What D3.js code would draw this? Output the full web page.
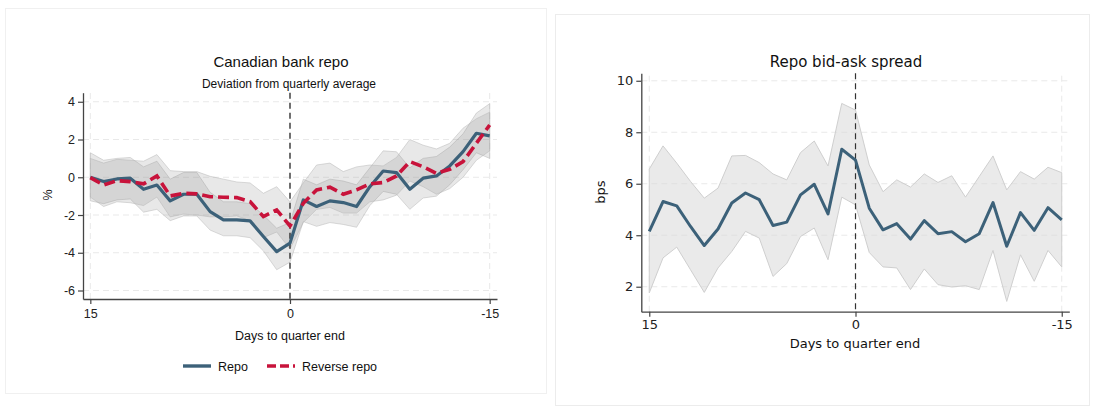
<!DOCTYPE html>
<html>
<head>
<meta charset="utf-8">
<script src="https://cdn.jsdelivr.net/npm/d3@7"></script>
<style>
  body { margin: 0; background: #fff; }
  svg { display: block; }
</style>
</head>
<body>
<svg id="drawing_region"></svg>
<script>
// days to quarter end, 15 .. -15
const days = d3.range(15, -16, -1);

// left panel: Canadian bank repo, % deviation from quarterly average
const repoDev = [0, -0.23, -0.09, -0.05, -0.64, -0.41, -1.25, -0.9, -0.9, -1.82, -2.26, -2.26, -2.31, -3.14, -3.94, -3.49,
  -1.2, -1.55, -1.25, -1.34, -1.55, -0.5, 0.33, 0.25, -0.64, -0.05, 0.07, 0.6, 1.36, 2.33, 2.19];
const repoHi = [1.3, 0.9, 1.0, 1.05, 0.55, 0.85, -0.1, 0.25, 0.25, -0.8, -1.3, -1.3, -1.4, -2.0, -2.7, -2.4,
  -0.1, -0.4, -0.1, -0.2, -0.4, 0.5, 1.4, 1.35, 0.5, 1.0, 1.1, 1.6, 2.3, 3.4, 3.9];
const repoLo = [-1.25, -1.4, -1.2, -1.15, -1.85, -1.7, -2.3, -2.05, -2.05, -2.8, -3.1, -3.1, -3.2, -3.9, -4.9, -4.5,
  -2.35, -2.6, -2.4, -2.5, -2.65, -1.5, -0.75, -0.9, -1.7, -1.1, -1.0, -0.4, 0.4, 1.3, 1.0];
const revDev = [-0.02, -0.41, -0.18, -0.23, -0.35, 0.07, -0.99, -0.85, -0.88, -1.03, -1.06, -1.08, -1.29, -2.08, -1.73, -2.58,
  -1.38, -0.67, -0.53, -0.9, -0.67, -0.35, -0.28, 0.07, 0.83, 0.56, 0.21, 0.42, 0.83, 1.8, 2.77];
const revHi = [1.0, 0.75, 0.95, 0.9, 0.85, 1.2, 0.35, 0.3, 0.3, 0.05, -0.1, -0.25, -0.3, -0.85, -0.5, -1.3,
  -0.3, 0.65, 0.75, 0.3, 0.55, 0.65, 0.6, 1.05, 2.0, 1.7, 1.5, 1.8, 2.6, 3.1, 3.45];
const revLo = [-1.05, -1.55, -1.3, -1.35, -1.5, -1.05, -2.1, -1.95, -2.0, -2.1, -2.1, -2.05, -2.3, -3.2, -2.9, -3.8,
  -2.4, -1.7, -1.6, -1.9, -1.9, -1.3, -1.2, -0.95, -0.2, -0.5, -0.9, -0.6, 0.0, 0.9, 1.4];

// right panel: repo bid-ask spread, bps
const spread = [4.15, 5.31, 5.14, 4.34, 3.6, 4.24, 5.25, 5.64, 5.38, 4.38, 4.51, 5.57, 5.98, 4.83, 7.34, 6.92,
  5.05, 4.21, 4.45, 3.85, 4.57, 4.06, 4.14, 3.75, 4.06, 5.27, 3.57, 4.88, 4.19, 5.07, 4.6];
const spreadHi = [6.57, 7.47, 6.8, 6.09, 5.44, 5.83, 7.08, 7.1, 6.82, 6.38, 6.15, 7.21, 7.66, 6.69, 9.12, 8.86,
  6.73, 5.69, 6.15, 5.87, 6.38, 6.05, 6.31, 5.48, 6.28, 7.08, 5.76, 6.47, 6.18, 6.64, 6.43];
const spreadLo = [1.76, 3.12, 3.54, 2.66, 1.78, 2.73, 3.37, 4.15, 3.89, 2.4, 2.9, 3.95, 4.28, 3.05, 5.48, 5.18,
  3.33, 2.77, 2.73, 1.89, 2.69, 2.08, 1.99, 2.04, 1.89, 3.41, 1.43, 3.24, 2.21, 3.41, 2.77];

const xTicks = [15, 0, -15];
const leftYTicks = [4, 2, 0, -2, -4, -6];
const rightYTicks = [10, 8, 6, 4, 2];

const blue = "#3c6179";
const red = "#c8133b";

const width = 1095, height = 420;
const svg = d3.select('#drawing_region')
    .attr('width', width)
    .attr('height', height);

// panel frames
svg.append("rect").attr("x", 5.5).attr("y", 8.5).attr("width", 541).attr("height", 385)
    .attr("fill", "none").attr("stroke", "#f0f0f0");
svg.append("rect").attr("x", 555.5).attr("y", 14.5).attr("width", 534).attr("height", 391)
    .attr("fill", "none").attr("stroke", "#ececec");

function drawFrame(g, x, y, yTicks, font, fs, xpad) {
  const [x0, x1] = x.range();
  const [y0, y1] = y.range();
  // grid
  g.selectAll(".hgrid").data(yTicks).enter().append("line")
      .attr("x1", x0).attr("x2", x1)
      .attr("y1", d => y(d)).attr("y2", d => y(d))
      .attr("stroke", "#e9e9e9").attr("stroke-dasharray", "6,4");
  g.selectAll(".vgrid").data([15, -15]).enter().append("line")
      .attr("x1", d => x(d)).attr("x2", d => x(d))
      .attr("y1", y0).attr("y2", y1)
      .attr("stroke", "#e9e9e9").attr("stroke-dasharray", "6,4");

  const yaxis = d3.axisLeft(y).tickValues(yTicks).tickSize(5).tickSizeOuter(0).tickFormat(d => String(d));
  const xaxis = d3.axisBottom(x).tickValues(xTicks).tickSize(5).tickSizeOuter(0).tickFormat(d => String(d))
      .tickPadding(xpad);

  const ya = g.append("g").attr("transform", `translate(${x0},0)`).call(yaxis);
  const xa = g.append("g").attr("transform", `translate(0,${y0})`).call(xaxis);
  [ya, xa].forEach(a => {
    a.select(".domain").attr("stroke", "#444").attr("stroke-width", 1.3);
    a.selectAll(".tick line").attr("stroke", "#444").attr("stroke-width", 1.2);
    a.selectAll(".tick text").attr("fill", "#222").attr("font-family", font).attr("font-size", fs);
  });
  return { ya, xa };
}

function band(x, y, hi, lo) {
  return d3.area()
      .x((d, i) => x(days[i]))
      .y0((d, i) => y(lo[i]))
      .y1((d, i) => y(hi[i]))(days);
}

function line(x, y, vals) {
  return d3.line()
      .x((d, i) => x(days[i]))
      .y((d, i) => y(vals[i]))(days);
}

// ---------------- left panel ----------------
{
  const font = "'Liberation Sans', Arial, sans-serif";
  const x = d3.scaleLinear().domain([15.55, -15.55]).range([83, 497]);
  const y = d3.scaleLinear().domain([-6.45, 4.48]).range([299, 92.7]);
  const g = svg.append("g");

  drawFrame(g, x, y, leftYTicks, font, 12.5, 5);

  [[repoHi, repoLo], [revHi, revLo]].forEach(([hi, lo]) => {
    g.append("path").attr("d", band(x, y, hi, lo))
        .attr("fill", "#8c8c8c").attr("fill-opacity", 0.2)
        .attr("stroke", "#b4b4b4").attr("stroke-opacity", 0.6).attr("stroke-width", 0.8);
  });

  g.append("line")
      .attr("x1", x(0)).attr("x2", x(0)).attr("y1", 92.7).attr("y2", 299)
      .attr("stroke", "#111").attr("stroke-width", 1.2).attr("stroke-dasharray", "6,4");

  g.append("path").attr("d", line(x, y, repoDev))
      .attr("fill", "none").attr("stroke", blue).attr("stroke-width", 3.2).attr("stroke-linejoin", "round");
  g.append("path").attr("d", line(x, y, revDev))
      .attr("fill", "none").attr("stroke", red).attr("stroke-width", 3.6).attr("stroke-dasharray", "11,5");

  g.append("text").attr("x", 281).attr("y", 67).attr("text-anchor", "middle")
      .attr("font-family", font).attr("font-size", 15).attr("fill", "#111").text("Canadian bank repo");
  g.append("text").attr("x", 289).attr("y", 88).attr("text-anchor", "middle")
      .attr("font-family", font).attr("font-size", 12).attr("fill", "#111").text("Deviation from quarterly average");
  g.append("text").attr("transform", "translate(52,195) rotate(-90)").attr("text-anchor", "middle")
      .attr("font-family", font).attr("font-size", 12.5).attr("fill", "#111").text("%");
  g.append("text").attr("x", 290).attr("y", 340).attr("text-anchor", "middle")
      .attr("font-family", font).attr("font-size", 12.5).attr("fill", "#111").text("Days to quarter end");

  // legend
  g.append("line").attr("x1", 183).attr("x2", 211).attr("y1", 366).attr("y2", 366)
      .attr("stroke", blue).attr("stroke-width", 3.4);
  g.append("text").attr("x", 218).attr("y", 370.5).attr("font-family", font).attr("font-size", 12.5)
      .attr("fill", "#111").text("Repo");
  g.append("line").attr("x1", 267).attr("x2", 295).attr("y1", 366).attr("y2", 366)
      .attr("stroke", red).attr("stroke-width", 3.6).attr("stroke-dasharray", "9,4");
  g.append("text").attr("x", 302).attr("y", 370.5).attr("font-family", font).attr("font-size", 12.5)
      .attr("fill", "#111").text("Reverse repo");
}

// ---------------- right panel ----------------
{
  const font = "'DejaVu Sans', sans-serif";
  const x = d3.scaleLinear().domain([15.58, -15.55]).range([641.3, 1069.3]);
  const y = d3.scaleLinear().domain([1.03, 10.29]).range([311.7, 73.3]);
  const g = svg.append("g");

  drawFrame(g, x, y, rightYTicks, font, 13, 3);

  g.append("path").attr("d", band(x, y, spreadHi, spreadLo))
      .attr("fill", "#d9d9d9").attr("fill-opacity", 0.55)
      .attr("stroke", "#cfcfcf").attr("stroke-width", 1);

  g.append("line")
      .attr("x1", x(0)).attr("x2", x(0)).attr("y1", 73.3).attr("y2", 311.7)
      .attr("stroke", "#333").attr("stroke-width", 1.2).attr("stroke-dasharray", "6,4");

  g.append("path").attr("d", line(x, y, spread))
      .attr("fill", "none").attr("stroke", blue).attr("stroke-width", 3).attr("stroke-linejoin", "round");

  g.append("text").attr("x", 846).attr("y", 67).attr("text-anchor", "middle")
      .attr("font-family", font).attr("font-size", 15).attr("fill", "#111").text("Repo bid-ask spread");
  g.append("text").attr("transform", "translate(605,192) rotate(-90)").attr("text-anchor", "middle")
      .attr("font-family", font).attr("font-size", 13).attr("fill", "#111").text("bps");
  g.append("text").attr("x", 855).attr("y", 348).attr("text-anchor", "middle")
      .attr("font-family", font).attr("font-size", 13).attr("fill", "#111").text("Days to quarter end");
}
</script>
</body>
</html>
